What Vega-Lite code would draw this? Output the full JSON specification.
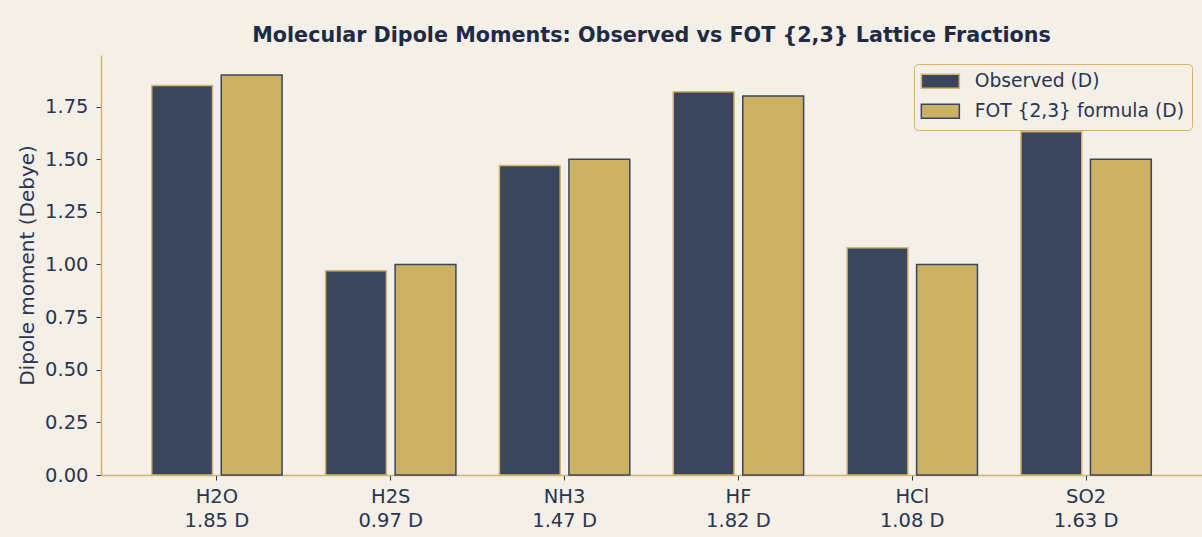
{
  "$schema": "https://vega.github.io/schema/vega-lite/v6.json",
  "width": 1101,
  "height": 420,
  "autosize": {"type": "none"},
  "padding": {"left": 101, "top": 55, "right": 0, "bottom": 62},
  "background": "#f4efe7",
  "title": {
    "text": "Molecular Dipole Moments: Observed vs FOT {2,3} Lattice Fractions",
    "fontSize": 20.7,
    "fontWeight": "bold",
    "font": "DejaVu Sans",
    "color": "#1f2a44",
    "anchor": "middle",
    "offset": 8
  },
  "config": {
    "view": {"stroke": null},
    "font": "DejaVu Sans"
  },
  "data": {
    "values": [
      {"molecule": "H2O|1.85 D", "series": "Observed (D)", "value": 1.85},
      {"molecule": "H2O|1.85 D", "series": "FOT {2,3} formula (D)", "value": 1.9},
      {"molecule": "H2S|0.97 D", "series": "Observed (D)", "value": 0.97},
      {"molecule": "H2S|0.97 D", "series": "FOT {2,3} formula (D)", "value": 1.0},
      {"molecule": "NH3|1.47 D", "series": "Observed (D)", "value": 1.47},
      {"molecule": "NH3|1.47 D", "series": "FOT {2,3} formula (D)", "value": 1.5},
      {"molecule": "HF|1.82 D", "series": "Observed (D)", "value": 1.82},
      {"molecule": "HF|1.82 D", "series": "FOT {2,3} formula (D)", "value": 1.8},
      {"molecule": "HCl|1.08 D", "series": "Observed (D)", "value": 1.08},
      {"molecule": "HCl|1.08 D", "series": "FOT {2,3} formula (D)", "value": 1.0},
      {"molecule": "SO2|1.63 D", "series": "Observed (D)", "value": 1.63},
      {"molecule": "SO2|1.63 D", "series": "FOT {2,3} formula (D)", "value": 1.5}
    ]
  },
  "mark": {"type": "bar", "strokeWidth": 1.5},
  "encoding": {
    "x": {
      "field": "molecule",
      "type": "nominal",
      "sort": null,
      "scale": {"paddingInner": 0.25, "paddingOuter": 0.2917},
      "axis": {
        "title": null,
        "labelAngle": 0,
        "labelExpr": "split(datum.value, '|')",
        "labelLineHeight": 24,
        "labelFontSize": 19.5,
        "labelColor": "#2a3550",
        "labelPadding": 7,
        "domainColor": "#d4b46c",
        "domainWidth": 1.5,
        "tickColor": "#2a3550",
        "tickSize": 5,
        "tickWidth": 1
      }
    },
    "xOffset": {
      "field": "series",
      "type": "nominal",
      "sort": ["Observed (D)", "FOT {2,3} formula (D)"],
      "scale": {"paddingInner": 0.125, "paddingOuter": 0}
    },
    "y": {
      "field": "value",
      "type": "quantitative",
      "scale": {"domain": [0, 1.995], "nice": false, "zero": true},
      "axis": {
        "title": "Dipole moment (Debye)",
        "titleFontSize": 20,
        "titleFontWeight": "normal",
        "titleColor": "#2a3550",
        "titlePadding": 7,
        "values": [0, 0.25, 0.5, 0.75, 1.0, 1.25, 1.5, 1.75],
        "format": ".2f",
        "grid": false,
        "labelFontSize": 19.5,
        "labelColor": "#2a3550",
        "labelPadding": 8,
        "domainColor": "#d4b46c",
        "domainWidth": 1.5,
        "tickColor": "#2a3550",
        "tickSize": 5,
        "tickWidth": 1
      }
    },
    "fill": {
      "field": "series",
      "type": "nominal",
      "sort": ["Observed (D)", "FOT {2,3} formula (D)"],
      "scale": {"domain": ["Observed (D)", "FOT {2,3} formula (D)"], "range": ["#3b455d", "#ccb164"]},
      "legend": {
        "title": null,
        "orient": "none",
        "legendX": 813,
        "legendY": 9,
        "fillColor": "#f4efe7",
        "strokeColor": "#d4b46c",
        "cornerRadius": 4,
        "padding": 8,
        "labelFontSize": 18.7,
        "labelLimit": 400,
        "labelColor": "#2a3550",
        "labelOffset": 25,
        "symbolOffset": 9,
        "symbolType": "M-2.714,-1L2.714,-1L2.714,1L-2.714,1Z",
        "symbolSize": 196,
        "symbolStrokeWidth": 1.5,
        "symbolOpacity": 1,
        "rowPadding": 9
      }
    },
    "stroke": {
      "field": "series",
      "type": "nominal",
      "sort": ["Observed (D)", "FOT {2,3} formula (D)"],
      "scale": {"domain": ["Observed (D)", "FOT {2,3} formula (D)"], "range": ["#d2b66a", "#3b455d"]}
    }
  }
}
